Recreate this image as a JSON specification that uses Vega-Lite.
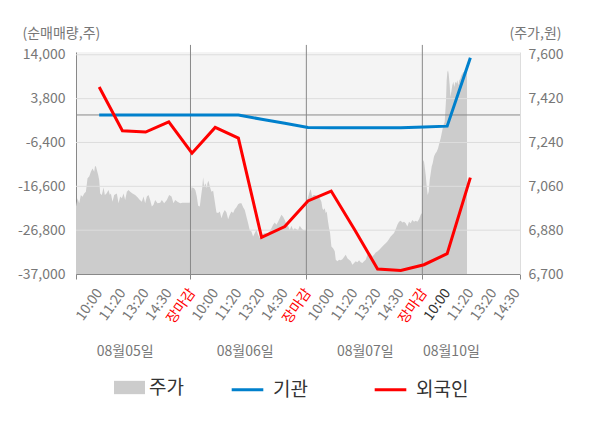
{
  "$schema": "https://vega.github.io/schema/vega-lite/v6.json",
  "width": 444,
  "height": 222,
  "autosize": {"type": "none"},
  "padding": {"left": 76, "top": 52, "right": 80, "bottom": 154},
  "datasets": {
    "price": [
      {"i": -1.0, "p": 6977}, {"i": -0.934, "p": 7011}, {"i": -0.862, "p": 6990}, {"i": -0.79, "p": 7024},
      {"i": -0.718, "p": 7017}, {"i": -0.646, "p": 7031}, {"i": -0.574, "p": 7038}, {"i": -0.503, "p": 7093},
      {"i": -0.431, "p": 7100}, {"i": -0.359, "p": 7120}, {"i": -0.287, "p": 7133}, {"i": -0.215, "p": 7120},
      {"i": -0.186, "p": 7140}, {"i": -0.144, "p": 7143}, {"i": -0.101, "p": 7127}, {"i": -0.043, "p": 7106},
      {"i": 0.0, "p": 7086}, {"i": 0.043, "p": 7031}, {"i": 0.115, "p": 7024}, {"i": 0.187, "p": 7055},
      {"i": 0.244, "p": 7024}, {"i": 0.316, "p": 7031}, {"i": 0.402, "p": 7045}, {"i": 0.46, "p": 7024},
      {"i": 0.503, "p": 7031}, {"i": 0.575, "p": 6997}, {"i": 0.646, "p": 7024}, {"i": 0.761, "p": 7031},
      {"i": 0.833, "p": 6990}, {"i": 0.905, "p": 7018}, {"i": 0.977, "p": 7011}, {"i": 1.049, "p": 7031},
      {"i": 1.12, "p": 7004}, {"i": 1.192, "p": 7038}, {"i": 1.264, "p": 7045}, {"i": 1.336, "p": 7038},
      {"i": 1.436, "p": 7031}, {"i": 1.551, "p": 7024}, {"i": 1.652, "p": 7015}, {"i": 1.752, "p": 7004},
      {"i": 1.838, "p": 6997}, {"i": 1.91, "p": 7018}, {"i": 1.982, "p": 6990}, {"i": 2.054, "p": 7018},
      {"i": 2.126, "p": 7024}, {"i": 2.197, "p": 7004}, {"i": 2.269, "p": 6977}, {"i": 2.341, "p": 6984},
      {"i": 2.413, "p": 7004}, {"i": 2.514, "p": 6990}, {"i": 2.629, "p": 6993}, {"i": 2.7, "p": 7004},
      {"i": 2.801, "p": 6990}, {"i": 2.916, "p": 7004}, {"i": 3.016, "p": 7024}, {"i": 3.117, "p": 7018},
      {"i": 3.203, "p": 6990}, {"i": 3.275, "p": 7004}, {"i": 3.375, "p": 6997}, {"i": 3.49, "p": 6990},
      {"i": 3.59, "p": 6993}, {"i": 3.906, "p": 6993},
      {"i": 3.978, "p": 7056}, {"i": 4.093, "p": 7052}, {"i": 4.15, "p": 7043}, {"i": 4.208, "p": 7018},
      {"i": 4.265, "p": 6980}, {"i": 4.337, "p": 6977}, {"i": 4.38, "p": 7011}, {"i": 4.438, "p": 7052},
      {"i": 4.481, "p": 7097}, {"i": 4.524, "p": 7059}, {"i": 4.581, "p": 7073}, {"i": 4.639, "p": 7052},
      {"i": 4.667, "p": 7073}, {"i": 4.711, "p": 7083}, {"i": 4.768, "p": 7059}, {"i": 4.84, "p": 7038},
      {"i": 4.912, "p": 7042}, {"i": 4.984, "p": 6997}, {"i": 5.055, "p": 6953}, {"i": 5.127, "p": 6950},
      {"i": 5.199, "p": 6957}, {"i": 5.271, "p": 6929}, {"i": 5.343, "p": 6950}, {"i": 5.414, "p": 6963},
      {"i": 5.486, "p": 6953}, {"i": 5.558, "p": 6925}, {"i": 5.63, "p": 6943}, {"i": 5.701, "p": 6957},
      {"i": 5.773, "p": 6950}, {"i": 5.845, "p": 6966}, {"i": 5.917, "p": 6974}, {"i": 5.989, "p": 6986},
      {"i": 6.061, "p": 6990}, {"i": 6.132, "p": 6990}, {"i": 6.204, "p": 6974}, {"i": 6.276, "p": 6963},
      {"i": 6.348, "p": 6935}, {"i": 6.42, "p": 6908}, {"i": 6.492, "p": 6879}, {"i": 6.563, "p": 6875},
      {"i": 6.635, "p": 6854}, {"i": 6.707, "p": 6868}, {"i": 6.779, "p": 6882}, {"i": 6.85, "p": 6861},
      {"i": 6.922, "p": 6848}, {"i": 6.994, "p": 6861}, {"i": 7.138, "p": 6868}, {"i": 7.281, "p": 6865},
      {"i": 7.425, "p": 6888}, {"i": 7.497, "p": 6902}, {"i": 7.569, "p": 6911}, {"i": 7.64, "p": 6902},
      {"i": 7.712, "p": 6915}, {"i": 7.784, "p": 6929}, {"i": 7.856, "p": 6943}, {"i": 7.928, "p": 6935},
      {"i": 8.0, "p": 6922}, {"i": 8.071, "p": 6902}, {"i": 8.143, "p": 6898}, {"i": 8.215, "p": 6881},
      {"i": 8.287, "p": 6898}, {"i": 8.358, "p": 6881}, {"i": 8.43, "p": 6888}, {"i": 8.502, "p": 6884},
      {"i": 8.574, "p": 6881}, {"i": 8.646, "p": 6898}, {"i": 8.717, "p": 6888}, {"i": 8.789, "p": 6881},
      {"i": 8.861, "p": 6879}, {"i": 8.918, "p": 6879},
      {"i": 8.976, "p": 7004}, {"i": 9.048, "p": 7031}, {"i": 9.091, "p": 7044}, {"i": 9.12, "p": 7047},
      {"i": 9.177, "p": 7017}, {"i": 9.235, "p": 7024}, {"i": 9.306, "p": 7024}, {"i": 9.378, "p": 7020},
      {"i": 9.436, "p": 7020}, {"i": 9.508, "p": 7011}, {"i": 9.579, "p": 6997}, {"i": 9.622, "p": 6970},
      {"i": 9.665, "p": 6963}, {"i": 9.723, "p": 6970}, {"i": 9.766, "p": 6950}, {"i": 9.809, "p": 6957},
      {"i": 9.866, "p": 6915}, {"i": 9.91, "p": 6888}, {"i": 9.953, "p": 6868}, {"i": 10.01, "p": 6813},
      {"i": 10.082, "p": 6806}, {"i": 10.154, "p": 6793}, {"i": 10.197, "p": 6759}, {"i": 10.269, "p": 6752},
      {"i": 10.34, "p": 6759}, {"i": 10.412, "p": 6756}, {"i": 10.484, "p": 6761}, {"i": 10.556, "p": 6770},
      {"i": 10.628, "p": 6779}, {"i": 10.699, "p": 6765}, {"i": 10.771, "p": 6759}, {"i": 10.843, "p": 6752},
      {"i": 10.915, "p": 6738}, {"i": 10.987, "p": 6745}, {"i": 11.058, "p": 6752}, {"i": 11.13, "p": 6748},
      {"i": 11.202, "p": 6756}, {"i": 11.274, "p": 6748}, {"i": 11.346, "p": 6745}, {"i": 11.417, "p": 6752},
      {"i": 11.489, "p": 6759}, {"i": 11.561, "p": 6779}, {"i": 11.633, "p": 6788}, {"i": 11.705, "p": 6783},
      {"i": 11.777, "p": 6772}, {"i": 11.848, "p": 6779}, {"i": 11.92, "p": 6788}, {"i": 11.992, "p": 6792},
      {"i": 12.064, "p": 6799}, {"i": 12.136, "p": 6806}, {"i": 12.207, "p": 6813}, {"i": 12.279, "p": 6820},
      {"i": 12.351, "p": 6826}, {"i": 12.423, "p": 6833}, {"i": 12.495, "p": 6844}, {"i": 12.566, "p": 6854},
      {"i": 12.638, "p": 6861}, {"i": 12.71, "p": 6868}, {"i": 12.782, "p": 6884}, {"i": 12.854, "p": 6902},
      {"i": 12.925, "p": 6915}, {"i": 12.997, "p": 6919}, {"i": 13.069, "p": 6911}, {"i": 13.141, "p": 6915},
      {"i": 13.213, "p": 6908}, {"i": 13.285, "p": 6895}, {"i": 13.356, "p": 6915}, {"i": 13.428, "p": 6908},
      {"i": 13.5, "p": 6922}, {"i": 13.572, "p": 6915}, {"i": 13.644, "p": 6919}, {"i": 13.715, "p": 6915},
      {"i": 13.787, "p": 6925}, {"i": 13.859, "p": 6943}, {"i": 13.916, "p": 6950},
      {"i": 13.96, "p": 7168}, {"i": 14.003, "p": 7161}, {"i": 14.031, "p": 7141}, {"i": 14.075, "p": 7106},
      {"i": 14.118, "p": 7059}, {"i": 14.161, "p": 7024}, {"i": 14.204, "p": 7038}, {"i": 14.247, "p": 7086},
      {"i": 14.29, "p": 7113}, {"i": 14.333, "p": 7141}, {"i": 14.376, "p": 7155}, {"i": 14.433, "p": 7182},
      {"i": 14.491, "p": 7195}, {"i": 14.548, "p": 7202}, {"i": 14.606, "p": 7215}, {"i": 14.663, "p": 7237},
      {"i": 14.721, "p": 7257}, {"i": 14.778, "p": 7284}, {"i": 14.836, "p": 7311}, {"i": 14.893, "p": 7324},
      {"i": 14.95, "p": 7413}, {"i": 14.979, "p": 7495}, {"i": 15.008, "p": 7529}, {"i": 15.037, "p": 7536},
      {"i": 15.065, "p": 7522}, {"i": 15.109, "p": 7475}, {"i": 15.137, "p": 7427}, {"i": 15.18, "p": 7448},
      {"i": 15.223, "p": 7475}, {"i": 15.266, "p": 7489}, {"i": 15.309, "p": 7468}, {"i": 15.352, "p": 7489},
      {"i": 15.395, "p": 7482}, {"i": 15.439, "p": 7495}, {"i": 15.482, "p": 7475}, {"i": 15.525, "p": 7495},
      {"i": 15.568, "p": 7502}, {"i": 15.611, "p": 7516}, {"i": 15.654, "p": 7522}, {"i": 15.697, "p": 7529},
      {"i": 15.755, "p": 7529}, {"i": 15.812, "p": 7543}, {"i": 15.855, "p": 7550}
    ],
    "flow": [
      {"i": 0, "s": "기관", "v": 0}, {"i": 1, "s": "기관", "v": 0}, {"i": 2, "s": "기관", "v": 0},
      {"i": 3, "s": "기관", "v": 0}, {"i": 4, "s": "기관", "v": 0}, {"i": 5, "s": "기관", "v": 0},
      {"i": 6, "s": "기관", "v": 0}, {"i": 7, "s": "기관", "v": -1000}, {"i": 8, "s": "기관", "v": -1950},
      {"i": 9, "s": "기관", "v": -2900}, {"i": 10, "s": "기관", "v": -2950}, {"i": 11, "s": "기관", "v": -2950},
      {"i": 12, "s": "기관", "v": -2950}, {"i": 13, "s": "기관", "v": -2980}, {"i": 14, "s": "기관", "v": -2800},
      {"i": 15, "s": "기관", "v": -2600}, {"i": 16, "s": "기관", "v": 13300},
      {"i": 0, "s": "외국인", "v": 6500}, {"i": 1, "s": "외국인", "v": -3680}, {"i": 2, "s": "외국인", "v": -3980},
      {"i": 3, "s": "외국인", "v": -1590}, {"i": 4, "s": "외국인", "v": -8900}, {"i": 5, "s": "외국인", "v": -2890},
      {"i": 6, "s": "외국인", "v": -5370}, {"i": 7, "s": "외국인", "v": -28450}, {"i": 8, "s": "외국인", "v": -25950},
      {"i": 9, "s": "외국인", "v": -19990}, {"i": 10, "s": "외국인", "v": -17710}, {"i": 11, "s": "외국인", "v": -26600},
      {"i": 12, "s": "외국인", "v": -35830}, {"i": 13, "s": "외국인", "v": -36160}, {"i": 14, "s": "외국인", "v": -34840},
      {"i": 15, "s": "외국인", "v": -32280}, {"i": 16, "s": "외국인", "v": -14580}
    ],
    "hlines": [
      {"v": 14000, "k": "grid"}, {"v": 3800, "k": "grid"}, {"v": -6400, "k": "grid"},
      {"v": -16600, "k": "grid"}, {"v": -26800, "k": "grid"}, {"v": 0, "k": "zero"}
    ],
    "days": [{"i": 3.935}, {"i": 8.93}, {"i": 13.93}]
  },
  "resolve": {
    "scale": {"y": "independent"},
    "axis": {"x": "independent", "y": "independent"}
  },
  "layer": [
    {
      "data": {"name": "price"},
      "mark": {"type": "area", "opacity": 1},
      "encoding": {
        "x": {
          "field": "i", "type": "quantitative",
          "scale": {"domain": [-1, 18.14], "nice": false, "zero": false},
          "axis": {
            "orient": "bottom", "title": null,
            "values": [0, 1, 2, 3, 4, 5, 6, 7, 8, 9, 10, 11, 12, 13, 14, 15, 16, 17, 18],
            "labelExpr": "['10:00','11:20','13:20','14:30','장마감'][datum.value % 5]",
            "labelAngle": -55, "labelFontSize": 14, "labelPadding": 16,
            "labelColor": {"expr": "datum.value % 5 == 4 ? '#ff0000' : (datum.value == 15 ? '#333333' : '#777777')"},
            "labelOverlap": false, "labelFlush": false,
            "domain": false, "ticks": false, "grid": false
          }
        },
        "y": {
          "field": "p", "type": "quantitative",
          "scale": {"domain": [6700, 7611.5], "nice": false, "zero": false},
          "axis": {
            "orient": "right", "title": "(주가,원)",
            "values": [6700, 6880, 7060, 7240, 7420, 7600], "format": ",d",
            "titleAngle": 0, "titleAlign": "left", "titleBaseline": "middle",
            "titleX": -11, "titleY": -19,
            "domainColor": "#dddddd", "ticks": false, "grid": false,
            "labelPadding": 8, "labelFlush": false
          }
        },
        "y2": {"datum": 6700},
        "fill": {
          "datum": "주가",
          "scale": {"range": ["#cccccc"]},
          "legend": {
            "orient": "none", "legendX": 38, "legendY": 320, "title": null,
            "symbolType": "M-1,-0.43H1V0.43H-1Z", "symbolSize": 961,
            "symbolStrokeWidth": 0, "labelOffset": 4
          }
        }
      }
    },
    {
      "data": {"name": "hlines"},
      "mark": {"type": "rule", "strokeWidth": 1},
      "encoding": {
        "y": {
          "field": "v", "type": "quantitative",
          "scale": {"domain": [-37000, 14650], "nice": false, "zero": false},
          "axis": null
        },
        "stroke": {
          "condition": {"test": "datum.k == 'zero'", "value": "#888888"},
          "value": "#dddddd"
        }
      }
    },
    {
      "data": {"name": "days"},
      "mark": {"type": "rule", "color": "#888888", "strokeWidth": 1},
      "encoding": {
        "x": {
          "field": "i", "type": "quantitative",
          "scale": {"domain": [-1, 18.14], "nice": false, "zero": false},
          "axis": {
            "orient": "bottom", "title": null,
            "values": [-1, 3.935, 8.93, 13.93, 18.14],
            "labels": false, "grid": false,
            "domain": true, "domainColor": "#888888",
            "ticks": true, "tickColor": "#888888", "tickSize": 5
          }
        },
        "y": {
          "datum": 16300, "type": "quantitative",
          "scale": {"domain": [-37000, 14650], "nice": false, "zero": false},
          "axis": null
        },
        "y2": {"datum": -37000}
      }
    },
    {
      "data": {"name": "flow"},
      "mark": {"type": "line", "strokeWidth": 3},
      "encoding": {
        "x": {
          "field": "i", "type": "quantitative",
          "scale": {"domain": [-1, 18.14], "nice": false, "zero": false},
          "axis": {
            "orient": "bottom", "title": null,
            "values": [1.1, 6.27, 11.45, 15.16],
            "labelExpr": "datum.value < 3 ? '08월05일' : (datum.value < 8 ? '08월06일' : (datum.value < 13 ? '08월07일' : '08월10일'))",
            "labelAngle": 0, "labelAlign": "center", "labelBaseline": "top",
            "labelFontSize": 14, "labelColor": "#777777", "labelPadding": 70,
            "labelOverlap": false, "labelFlush": false,
            "domain": false, "ticks": false, "grid": false
          }
        },
        "y": {
          "field": "v", "type": "quantitative",
          "scale": {"domain": [-37000, 14650], "nice": false, "zero": false},
          "axis": {
            "orient": "left", "title": "(순매매량,주)",
            "values": [-37000, -26800, -16600, -6400, 3800, 14000], "format": ",d",
            "labelExpr": "replace(datum.label, '−', '-')",
            "titleAngle": 0, "titleAlign": "left", "titleBaseline": "middle",
            "titleX": -54, "titleY": -19,
            "domainColor": "#888888", "ticks": false, "grid": false,
            "labelPadding": 11, "labelFlush": false
          }
        },
        "stroke": {
          "field": "s", "type": "nominal",
          "scale": {"domain": ["기관", "외국인"], "range": ["#0080cc", "#ff0000"]},
          "legend": {
            "orient": "none", "legendX": 154, "legendY": 320, "title": null,
            "direction": "horizontal", "symbolType": "stroke", "symbolSize": 1000,
            "symbolStrokeWidth": 3, "labelOffset": 8, "columnPadding": 60
          }
        }
      }
    }
  ],
  "config": {
    "font": "Noto Sans CJK KR",
    "view": {"stroke": null, "fill": "#f4f4f4"},
    "axis": {
      "labelFont": "Noto Sans CJK KR", "labelFontSize": 14, "labelColor": "#777777",
      "titleFont": "Noto Sans CJK KR", "titleFontSize": 14, "titleFontWeight": "normal", "titleColor": "#777777"
    },
    "legend": {
      "labelFont": "Noto Sans CJK KR", "labelFontSize": 19, "labelColor": "#333333", "padding": 0
    }
  }
}
